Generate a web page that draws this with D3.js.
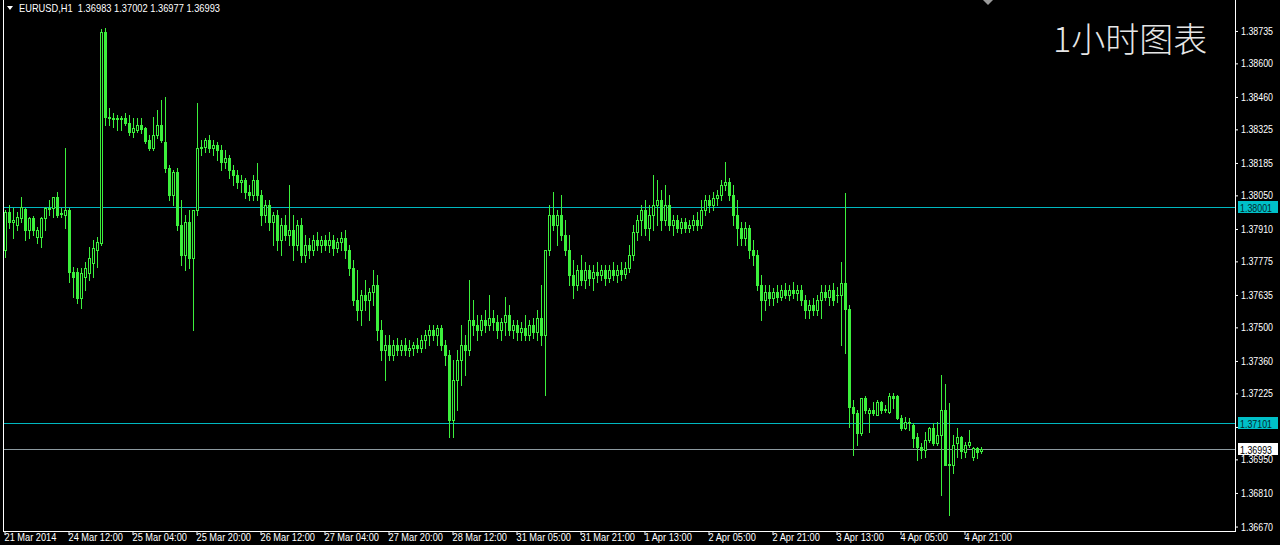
<!DOCTYPE html>
<html><head><meta charset="utf-8">
<script src="https://cdn.jsdelivr.net/npm/d3@7/dist/d3.min.js"></script>
<style>html,body{margin:0;padding:0;background:#000;overflow:hidden}svg{display:block}</style>
</head><body>
<svg id="c" width="1280" height="545"></svg>
<script>
// ---- DATA (EURUSD H1, 245 hourly bars) ----
const open=[1.37822,1.37981,1.37939,1.37926,1.37956,1.37993,1.37906,1.37956,1.37876,1.37876,1.37956,1.37993,1.37997,1.38043,1.37976,1.37968,1.37989,1.37731,1.37731,1.37622,1.37710,1.37726,1.37768,1.37822,1.37851,1.38731,1.38376,1.38372,1.38368,1.38372,1.38372,1.38351,1.38314,1.38322,1.38343,1.38331,1.38281,1.38247,1.38301,1.38343,1.38272,1.38164,1.38051,1.38147,1.37926,1.37801,1.37939,1.37789,1.37989,1.38247,1.38251,1.38281,1.38247,1.38260,1.38239,1.38189,1.38206,1.38156,1.38135,1.38106,1.38114,1.38064,1.38051,1.38114,1.38051,1.37968,1.38010,1.37939,1.37968,1.37864,1.37926,1.37885,1.37906,1.37843,1.37926,1.37801,1.37843,1.37822,1.37864,1.37843,1.37864,1.37843,1.37864,1.37831,1.37856,1.37872,1.37822,1.37747,1.37614,1.37572,1.37635,1.37614,1.37647,1.37676,1.37489,1.37406,1.37426,1.37385,1.37426,1.37406,1.37426,1.37406,1.37414,1.37426,1.37414,1.37447,1.37468,1.37489,1.37468,1.37497,1.37426,1.37385,1.37114,1.37281,1.37364,1.37426,1.37406,1.37531,1.37510,1.37489,1.37531,1.37510,1.37539,1.37522,1.37489,1.37522,1.37551,1.37489,1.37510,1.37481,1.37497,1.37468,1.37510,1.37481,1.37539,1.37468,1.37822,1.37968,1.37926,1.37968,1.37885,1.37822,1.37718,1.37676,1.37739,1.37697,1.37739,1.37706,1.37731,1.37718,1.37739,1.37706,1.37739,1.37718,1.37739,1.37722,1.37747,1.37801,1.37897,1.37947,1.37989,1.37914,1.37968,1.38010,1.38031,1.37947,1.38010,1.37926,1.37947,1.37914,1.37939,1.37914,1.37926,1.37947,1.37926,1.37989,1.38031,1.38010,1.38039,1.38051,1.38093,1.38106,1.38051,1.37968,1.37914,1.37872,1.37914,1.37822,1.37801,1.37676,1.37614,1.37647,1.37622,1.37647,1.37626,1.37656,1.37635,1.37656,1.37643,1.37656,1.37614,1.37572,1.37593,1.37572,1.37614,1.37647,1.37626,1.37656,1.37635,1.37635,1.37685,1.37576,1.37168,1.37143,1.37060,1.37206,1.37143,1.37156,1.37135,1.37189,1.37156,1.37147,1.37214,1.37214,1.37122,1.37081,1.37106,1.37093,1.37043,1.37001,1.36989,1.37031,1.37081,1.37018,1.37051,1.37156,1.36926,1.36926,1.37018,1.37043,1.36981,1.37010,1.36960,1.36997,1.36983];
const high=[1.37989,1.38010,1.37997,1.37981,1.38043,1.37997,1.37960,1.37964,1.37918,1.37960,1.38001,1.38031,1.38043,1.38064,1.37997,1.38247,1.37997,1.37751,1.37747,1.37747,1.37772,1.37835,1.37864,1.37876,1.38743,1.38747,1.38414,1.38393,1.38385,1.38381,1.38393,1.38385,1.38372,1.38372,1.38372,1.38335,1.38301,1.38376,1.38406,1.38447,1.38460,1.38176,1.38156,1.38164,1.38031,1.37968,1.37989,1.37926,1.38435,1.38281,1.38289,1.38301,1.38281,1.38272,1.38260,1.38239,1.38218,1.38176,1.38156,1.38135,1.38122,1.38093,1.38135,1.38185,1.38072,1.38031,1.38031,1.37981,1.37989,1.37956,1.37968,1.38093,1.37968,1.37947,1.37956,1.37885,1.37872,1.37885,1.37897,1.37881,1.37885,1.37897,1.37885,1.37872,1.37897,1.37906,1.37843,1.37781,1.37739,1.37656,1.37697,1.37664,1.37739,1.37718,1.37531,1.37468,1.37468,1.37447,1.37456,1.37447,1.37456,1.37447,1.37439,1.37456,1.37468,1.37489,1.37510,1.37510,1.37510,1.37510,1.37447,1.37406,1.37364,1.37406,1.37510,1.37468,1.37697,1.37614,1.37551,1.37551,1.37572,1.37635,1.37572,1.37551,1.37539,1.37626,1.37593,1.37531,1.37531,1.37522,1.37551,1.37531,1.37539,1.37572,1.37676,1.37697,1.38010,1.38064,1.37989,1.38051,1.37947,1.37885,1.37781,1.37760,1.37801,1.37772,1.37760,1.37760,1.37772,1.37760,1.37760,1.37760,1.37772,1.37760,1.37772,1.37772,1.37843,1.37926,1.37968,1.38010,1.38031,1.38010,1.38135,1.38114,1.38072,1.38093,1.38051,1.37968,1.37968,1.37956,1.37956,1.37947,1.37968,1.37981,1.38031,1.38051,1.38051,1.38064,1.38072,1.38114,1.38189,1.38122,1.38093,1.38031,1.37939,1.37939,1.37926,1.37864,1.37822,1.37718,1.37676,1.37676,1.37664,1.37676,1.37676,1.37685,1.37676,1.37689,1.37676,1.37676,1.37635,1.37614,1.37622,1.37635,1.37676,1.37676,1.37676,1.37685,1.37668,1.37772,1.38060,1.37593,1.37197,1.37156,1.37206,1.37214,1.37164,1.37189,1.37197,1.37193,1.37176,1.37226,1.37226,1.37218,1.37135,1.37126,1.37122,1.37101,1.37060,1.37018,1.37064,1.37085,1.37101,1.37106,1.37301,1.37264,1.37185,1.37051,1.37081,1.37047,1.37022,1.37072,1.37001,1.37001,1.37002];
const low=[1.37793,1.37914,1.37872,1.37906,1.37939,1.37864,1.37872,1.37885,1.37851,1.37835,1.37906,1.37968,1.37960,1.37960,1.37960,1.37914,1.37689,1.37626,1.37601,1.37581,1.37656,1.37697,1.37710,1.37751,1.37843,1.38343,1.38343,1.38335,1.38322,1.38322,1.38343,1.38301,1.38293,1.38314,1.38310,1.38268,1.38239,1.38239,1.38289,1.38272,1.38147,1.38031,1.38010,1.37906,1.37760,1.37739,1.37747,1.37489,1.37968,1.38218,1.38231,1.38231,1.38218,1.38197,1.38156,1.38164,1.38122,1.38093,1.38081,1.38064,1.38039,1.38031,1.38031,1.38031,1.37926,1.37939,1.37906,1.37843,1.37822,1.37801,1.37864,1.37843,1.37781,1.37822,1.37772,1.37772,1.37789,1.37801,1.37822,1.37814,1.37822,1.37814,1.37801,1.37814,1.37822,1.37789,1.37718,1.37593,1.37531,1.37510,1.37572,1.37531,1.37593,1.37447,1.37364,1.37281,1.37364,1.37364,1.37385,1.37385,1.37385,1.37381,1.37385,1.37397,1.37397,1.37414,1.37426,1.37447,1.37426,1.37406,1.37343,1.37043,1.37043,1.37156,1.37260,1.37301,1.37385,1.37468,1.37447,1.37468,1.37481,1.37489,1.37489,1.37456,1.37447,1.37468,1.37468,1.37456,1.37447,1.37447,1.37447,1.37447,1.37456,1.37447,1.37426,1.37218,1.37801,1.37906,1.37843,1.37864,1.37801,1.37676,1.37622,1.37656,1.37676,1.37664,1.37676,1.37656,1.37689,1.37697,1.37676,1.37689,1.37697,1.37689,1.37697,1.37706,1.37731,1.37781,1.37864,1.37885,1.37885,1.37864,1.37906,1.37926,1.37906,1.37926,1.37906,1.37885,1.37897,1.37893,1.37897,1.37897,1.37906,1.37906,1.37914,1.37968,1.37981,1.37989,1.38010,1.38031,1.38072,1.38031,1.37926,1.37843,1.37843,1.37843,1.37789,1.37760,1.37656,1.37531,1.37572,1.37593,1.37593,1.37606,1.37614,1.37622,1.37614,1.37622,1.37614,1.37593,1.37539,1.37539,1.37551,1.37551,1.37539,1.37614,1.37593,1.37593,1.37606,1.37426,1.37393,1.37085,1.36968,1.37010,1.37051,1.37143,1.37064,1.37135,1.37135,1.37143,1.37147,1.37143,1.37164,1.37118,1.37072,1.37076,1.37072,1.37001,1.36947,1.36956,1.36960,1.37022,1.37010,1.37010,1.36801,1.36926,1.36718,1.36893,1.36960,1.36956,1.36960,1.37001,1.36947,1.36956,1.36977];
const close=[1.37981,1.37939,1.37947,1.37960,1.38001,1.37906,1.37956,1.37906,1.37906,1.37956,1.37997,1.37997,1.38043,1.37968,1.37972,1.37989,1.37731,1.37710,1.37622,1.37726,1.37747,1.37789,1.37831,1.37856,1.38731,1.38376,1.38372,1.38368,1.38372,1.38368,1.38351,1.38314,1.38331,1.38343,1.38326,1.38276,1.38247,1.38301,1.38343,1.38281,1.38164,1.38051,1.38147,1.37926,1.37801,1.37939,1.37789,1.37989,1.38247,1.38251,1.38281,1.38247,1.38260,1.38239,1.38189,1.38206,1.38156,1.38135,1.38106,1.38114,1.38064,1.38051,1.38114,1.38051,1.37968,1.38010,1.37939,1.37968,1.37864,1.37926,1.37885,1.37906,1.37843,1.37926,1.37801,1.37843,1.37822,1.37864,1.37843,1.37864,1.37843,1.37864,1.37831,1.37856,1.37872,1.37822,1.37747,1.37614,1.37572,1.37635,1.37614,1.37647,1.37676,1.37489,1.37406,1.37426,1.37385,1.37426,1.37406,1.37426,1.37406,1.37414,1.37426,1.37414,1.37447,1.37468,1.37489,1.37468,1.37497,1.37426,1.37385,1.37114,1.37281,1.37364,1.37426,1.37406,1.37531,1.37510,1.37489,1.37531,1.37510,1.37539,1.37522,1.37489,1.37522,1.37551,1.37489,1.37510,1.37481,1.37497,1.37468,1.37510,1.37481,1.37539,1.37468,1.37822,1.37968,1.37926,1.37968,1.37885,1.37822,1.37718,1.37676,1.37739,1.37697,1.37739,1.37706,1.37731,1.37718,1.37739,1.37706,1.37739,1.37718,1.37739,1.37722,1.37747,1.37801,1.37897,1.37947,1.37989,1.37914,1.37968,1.38010,1.38031,1.37947,1.38010,1.37926,1.37947,1.37914,1.37939,1.37914,1.37926,1.37947,1.37926,1.37989,1.38031,1.38010,1.38039,1.38051,1.38093,1.38106,1.38051,1.37968,1.37914,1.37872,1.37914,1.37822,1.37801,1.37676,1.37614,1.37647,1.37622,1.37647,1.37626,1.37656,1.37635,1.37656,1.37643,1.37656,1.37614,1.37572,1.37593,1.37572,1.37614,1.37647,1.37626,1.37656,1.37614,1.37635,1.37685,1.37576,1.37168,1.37143,1.37060,1.37206,1.37156,1.37156,1.37143,1.37189,1.37156,1.37160,1.37214,1.37206,1.37122,1.37081,1.37106,1.37101,1.37039,1.37001,1.36989,1.37031,1.37081,1.37018,1.37051,1.37156,1.36926,1.36930,1.37010,1.37043,1.36985,1.37010,1.37022,1.36997,1.36981,1.36993];

const xTickIndex=[0,16,32,48,64,80,96,112,128,144,160,176,192,208,224,240];
const xTickLabels=["21 Mar 2014","24 Mar 12:00","25 Mar 04:00","25 Mar 20:00","26 Mar 12:00","27 Mar 04:00","27 Mar 20:00","28 Mar 12:00","31 Mar 05:00","31 Mar 21:00","1 Apr 13:00","2 Apr 05:00","2 Apr 21:00","3 Apr 13:00","4 Apr 05:00","4 Apr 21:00"];
const yTickValues=[1.38735,1.38600,1.38460,1.38325,1.38185,1.38050,1.37910,1.37775,1.37635,1.37500,1.37360,1.37225,1.37085,1.36950,1.36810,1.36670];
const hiddenTick=1.37085; // its label sits under the 1.37101 price box
const levelLines=[1.38001,1.37101];
const bidPrice=1.36993;
const titleText="EURUSD,H1  1.36983 1.37002 1.36977 1.36993";
const bigTitle="1小时图表";

// ---- LAYOUT ----
const GREEN="#3cf03c", CYAN="#00c0c8", CYANLINE="#00b8c0", FONT="'Liberation Sans', Arial, sans-serif";
const plotR=1235, plotB=531;
const N=close.length;
const svg=d3.select("#c");
svg.append("rect").attr("width",1280).attr("height",545).attr("fill","#000");

const x=d3.scaleBand().domain(d3.range(N)).range([3,3+4*N]);
const y=d3.scaleLinear().domain([1.366515,1.38864]).range([531,0]);
const cx=i=>x(i)+2;
const py=v=>Math.round(y(v));

// frame
const frame=svg.append("g").attr("shape-rendering","crispEdges");
frame.append("rect").attr("x",3).attr("y",0).attr("width",1).attr("height",plotB+1).attr("fill","#fff");
frame.append("rect").attr("x",3).attr("y",plotB).attr("width",plotR-2).attr("height",1).attr("fill","#fff");
frame.append("rect").attr("x",plotR).attr("y",0).attr("width",1).attr("height",plotB+1).attr("fill","#fff");

// level lines (drawn as 1px filled rects)
const lv=svg.append("g").attr("shape-rendering","crispEdges");
levelLines.forEach(v=>lv.append("rect").attr("x",4).attr("width",plotR-4).attr("y",py(v)).attr("height",1).attr("fill",CYANLINE));
lv.append("rect").attr("x",4).attr("width",plotR-4).attr("y",py(bidPrice)).attr("height",1).attr("fill","#8c9aa0");

// candles
const idx=d3.range(N);
const cg=svg.append("g").attr("shape-rendering","crispEdges");
cg.selectAll("rect.w").data(idx).join("rect").attr("class","w")
  .attr("x",i=>cx(i)).attr("width",1)
  .attr("y",i=>py(high[i])).attr("height",i=>py(low[i])-py(high[i])+1)
  .attr("fill",GREEN);
cg.selectAll("rect.b").data(idx).join("rect").attr("class","b")
  .each(function(i){
    const o=py(open[i]), c=py(close[i]);
    const top=Math.min(o,c), bot=Math.max(o,c);
    const r=d3.select(this);
    if(close[i]>open[i] && bot-top>=2){
      r.attr("x",cx(i)-0.5).attr("y",top+0.5).attr("width",2).attr("height",bot-top)
       .attr("fill","#000").attr("stroke",GREEN).attr("stroke-width",1);
    } else {
      r.attr("x",cx(i)-1).attr("y",top).attr("width",3).attr("height",Math.max(1,bot-top+1))
       .attr("fill",GREEN);
    }
  });

// y axis
const ya=svg.append("g").attr("transform",`translate(${plotR},0)`)
  .call(d3.axisRight(y).tickValues(yTickValues).tickSize(3).tickSizeOuter(0).tickPadding(3).tickFormat(d3.format(".5f")));
ya.select(".domain").remove();
ya.selectAll("line").attr("stroke","#fff");
ya.selectAll(".tick").filter(d=>d===hiddenTick).select("text").remove();
ya.selectAll("text").attr("fill","#fff").attr("font-family",FONT).attr("font-size",11)
  .attr("textLength",32).attr("lengthAdjust","spacingAndGlyphs");

// x axis
const xa=svg.append("g").attr("transform",`translate(0,${plotB})`)
  .call(d3.axisBottom(x).tickValues(xTickIndex).tickSize(4).tickSizeOuter(0).tickPadding(1)
    .tickFormat(i=>xTickLabels[xTickIndex.indexOf(i)]));
xa.select(".domain").remove();
xa.selectAll("line").attr("stroke","#fff");
xa.selectAll("text").attr("fill","#fff").attr("font-family",FONT).attr("font-size",11)
  .attr("text-anchor","start").attr("x",-0.5).attr("y",2).attr("dy","0.71em")
  .each(function(){const w=this.getComputedTextLength();d3.select(this).attr("textLength",w*0.84).attr("lengthAdjust","spacingAndGlyphs");});

// price label boxes
function priceBox(v,bg,fg){
  const yy=py(v);
  const g=svg.append("g");
  g.append("rect").attr("x",1238).attr("y",yy-6).attr("width",40).attr("height",12).attr("fill",bg).attr("shape-rendering","crispEdges");
  g.append("text").attr("x",1240).attr("y",yy+4.5).attr("fill",fg).attr("font-family",FONT).attr("font-size",11)
    .attr("textLength",32).attr("lengthAdjust","spacingAndGlyphs").text(d3.format(".5f")(v));
}
levelLines.forEach(v=>priceBox(v,CYAN,"#06282a"));
priceBox(bidPrice,"#fff","#000");

// title
svg.append("path").attr("d","M7,6 L13,6 L10,10 Z").attr("fill","#fff");
svg.append("text").attr("x",19).attr("y",12).attr("fill","#fff").attr("font-family",FONT).attr("font-size",11)
  .attr("textLength",201).attr("lengthAdjust","spacingAndGlyphs").style("white-space","pre").text(titleText);

// chart shift marker
svg.append("path").attr("d","M983,0 L993,0 L988,5 Z").attr("fill","#9a9a9a");

// big label
svg.append("text").attr("x",1053).attr("y",52).attr("fill","#e6e6e6")
  .attr("font-family","'Noto Sans CJK SC','Noto Sans CJK JP',sans-serif").attr("font-weight",300).attr("font-size",34).text(bigTitle);
</script>
</body></html>
